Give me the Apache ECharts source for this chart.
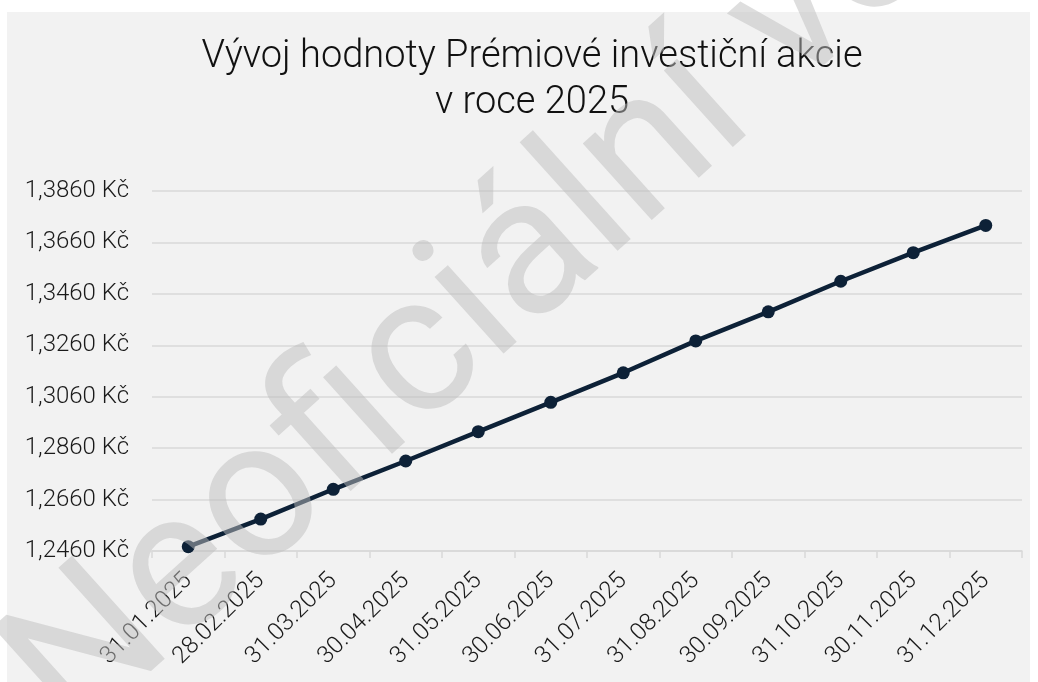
<!DOCTYPE html>
<html>
<head>
<meta charset="utf-8">
<title>Vývoj hodnoty Prémiové investiční akcie</title>
<script src="https://cdn.jsdelivr.net/npm/echarts@6/dist/echarts.min.js"></script>
<style>
  html, body { margin: 0; padding: 0; background: #ffffff; }
  #chart { width: 1038px; height: 682px; }
</style>
</head>
<body>
<div id="chart"></div>
<script>
// data
const dates = [
  "31.01.2025", "28.02.2025", "31.03.2025", "30.04.2025",
  "31.05.2025", "30.06.2025", "31.07.2025", "31.08.2025",
  "30.09.2025", "31.10.2025", "30.11.2025", "31.12.2025"
];
const values = [
  1.2477, 1.2584, 1.2700, 1.2810, 1.2924, 1.3038,
  1.3153, 1.3277, 1.3390, 1.3509, 1.3620, 1.3726
];
const yMin = 1.246;
const yMax = 1.386;
const yStep = 0.02;

const titleText = "Vývoj hodnoty Prémiové investiční akcie\nv roce 2025";
const watermarkText = "Neoficiální verze";

const fontFamily = "Roboto, 'Noto Sans', sans-serif";

// 1,2460 Kč
const formatKc = (v) => v.toFixed(4).replace(".", ",") + " Kč";

const chart = echarts.init(document.getElementById("chart"));

const option = {
  backgroundColor: "#ffffff",
  animation: false,
  textStyle: { fontFamily: fontFamily },
  title: {
    text: titleText,
    left: 527,
    top: 29,
    textAlign: "center",
    textStyle: {
      fontFamily: fontFamily,
      fontWeight: 300,
      fontSize: 38,
      lineHeight: 46,
      color: "#111111"
    }
  },
  grid: {
    left: 152,
    right: 16,
    top: 191,
    bottom: 131,
    containLabel: false
  },
  xAxis: {
    type: "category",
    data: dates,
    boundaryGap: true,
    axisLine: { lineStyle: { color: "#d9d9d9", width: 1.5 } },
    axisTick: { show: true, length: 7, lineStyle: { color: "#d9d9d9", width: 1.5 } },
    axisLabel: {
      rotate: 45,
      margin: 26,
      fontSize: 24,
      fontWeight: 300,
      color: "#1a1a1a",
      interval: 0
    },
    splitLine: { show: false }
  },
  yAxis: {
    type: "value",
    min: yMin,
    max: yMax,
    interval: yStep,
    axisLine: { show: false },
    axisTick: { show: false },
    axisLabel: {
      formatter: formatKc,
      fontSize: 24,
      fontWeight: 300,
      color: "#1a1a1a",
      margin: 23
    },
    splitLine: { lineStyle: { color: "#d9d9d9", width: 1.5 } }
  },
  series: [
    {
      type: "line",
      data: values,
      symbol: "circle",
      symbolSize: 13,
      lineStyle: { color: "#0d2137", width: 4.5 },
      itemStyle: { color: "#0d2137" },
      z: 5
    }
  ],
  graphic: [
    {
      type: "rect",
      z: -100,
      silent: true,
      shape: { x: 7, y: 12, width: 1023, height: 680 },
      style: { fill: "#f2f2f2" }
    },
    {
      type: "text",
      z: 100,
      silent: true,
      x: 106,
      y: 777,
      rotation: Math.PI * 42 / 180,
      style: {
        text: watermarkText,
        fontFamily: fontFamily,
        fontSize: 195,
        fontWeight: 400,
        fill: "rgba(190,190,190,0.5)",
        textAlign: "left",
        textVerticalAlign: "bottom"
      }
    }
  ]
};

chart.setOption(option);
</script>
</body>
</html>
